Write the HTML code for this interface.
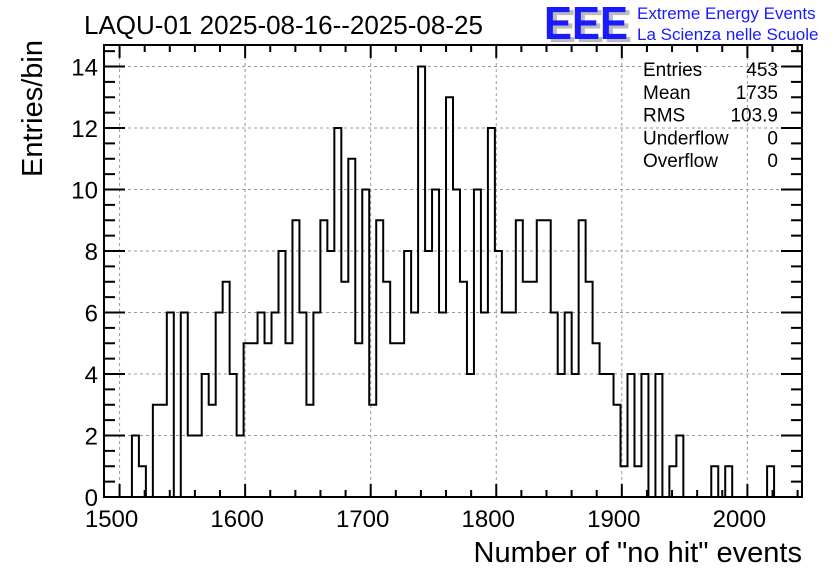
<!DOCTYPE html>
<html><head><meta charset="utf-8"><style>
body{margin:0;background:#fff;}
svg text{font-family:"Liberation Sans",sans-serif;}
</style></head><body>
<svg id="chart" width="836" height="572" viewBox="0 0 836 572" xmlns="http://www.w3.org/2000/svg">
<rect width="836" height="572" fill="#fff"/>
<g id="grid"></g>
<path id="hist" fill="none" stroke="#000" stroke-width="2"/>
<g id="axes"></g>
<text x="84" y="34" font-size="26">LAQU-01 2025-08-16--2025-08-25</text>
<g>
<text x="548" y="42" font-size="46" font-weight="bold" fill="#bbb" textLength="84" lengthAdjust="spacingAndGlyphs">EEE</text>
<text x="544" y="39" font-size="46" font-weight="bold" fill="#1a1aff" textLength="84" lengthAdjust="spacingAndGlyphs">EEE</text>
<text x="637" y="19" font-size="17" fill="#1a1aff">Extreme Energy Events</text>
<text x="637" y="40" font-size="17" fill="#1a1aff">La Scienza nelle Scuole</text>
</g>
<g id="stats" font-size="19"></g>
<text x="802" y="562" font-size="29" text-anchor="end">Number of "no hit" events</text>
<text transform="translate(42,40) rotate(-90)" font-size="29" text-anchor="end">Entries/bin</text>
</svg>
<script>
const binCounts = [0,0,0,0,2,1,0,3,3,6,0,6,2,2,4,3,6,7,4,2,5,5,6,5,6,8,5,9,6,3,6,9,8,12,7,11,5,10,3,9,7,5,5,8,6,14,8,10,6,13,10,7,4,10,6,12,8,6,6,9,7,7,9,9,6,4,6,4,9,7,5,4,4,3,1,4,1,4,0,4,0,1,2,0,0,0,0,1,0,1,0,0,0,0,0,1,0,0,0,0];
const xTickLabels = [1500,1600,1700,1800,1900,2000];
const yTickLabels = [0,2,4,6,8,10,12,14];
const statNames = ["Entries","Mean","RMS","Underflow","Overflow"];
const statValues = ["453","1735","103.9","0","0"];
const xMin = 1487.6, xMax = 2043.5, yMax = 14.7;
const L=104, R=802, T=45, B=497;
const NS="http://www.w3.org/2000/svg";
function sx(v){return L+(v-xMin)/(xMax-xMin)*(R-L);}
function sy(v){return B-v/yMax*(B-T);}
function mk(tag,attrs,parent){const e=document.createElementNS(NS,tag);for(const k in attrs)e.setAttribute(k,attrs[k]);parent.appendChild(e);return e;}
const grid=document.getElementById('grid'), axes=document.getElementById('axes');
const bw=(xMax-xMin)/binCounts.length;
let d="M"+sx(xMin)+","+sy(0);
binCounts.forEach((c,i)=>{const x0=sx(xMin+i*bw),x1=sx(xMin+(i+1)*bw);d+=" L"+x0+","+sy(c)+" L"+x1+","+sy(c);});
d+=" L"+sx(xMax)+","+sy(0);
document.getElementById('hist').setAttribute('d',d);
xTickLabels.forEach(v=>{const x=sx(v);
 const g=mk('line',{x1:x,x2:x,y1:T,y2:B,stroke:'#999','stroke-dasharray':'3,3','stroke-width':1},grid);
 
 const t=mk('text',{x:x-8,y:527,'font-size':24,'text-anchor':'middle'},axes);t.textContent=v;
 });
yTickLabels.forEach(v=>{const y=sy(v);
 if(v>0){const g=mk('line',{x1:L,x2:R,y1:y,y2:y,stroke:'#999','stroke-dasharray':'3,3','stroke-width':1},grid);
 }
 const t=mk('text',{x:98,y:y+9,'font-size':24,'text-anchor':'end'},axes);t.textContent=v;
 });
for(let v=1480;v<=xMax;v+=20){if(v<xMin)continue;const x=sx(v);const len=(v%100===0)?13:7;
 mk('line',{x1:x,x2:x,y1:B,y2:B-len,stroke:'#000','stroke-width':2},axes);
 mk('line',{x1:x,x2:x,y1:T,y2:T+len,stroke:'#000','stroke-width':2},axes);}
for(let v=0;v<=yMax+1e-9;v+=0.5){const y=sy(v);const len=(Math.abs(v%2)<1e-9)?21:11;
 mk('line',{x1:L,x2:L+len,y1:y,y2:y,stroke:'#000','stroke-width':2},axes);
 mk('line',{x1:R,x2:R-len,y1:y,y2:y,stroke:'#000','stroke-width':2},axes);}
const fr=mk('rect',{x:L,y:T,width:R-L,height:B-T,fill:'none',stroke:'#000','stroke-width':2},axes);

const st=document.getElementById('stats');
statNames.forEach((n,i)=>{const y=76+i*22.8;
 const a=mk('text',{x:643,y:y},st);a.textContent=n;
 const b=mk('text',{x:778,y:y,'text-anchor':'end'},st);b.textContent=statValues[i];});
</script>
</body></html>
